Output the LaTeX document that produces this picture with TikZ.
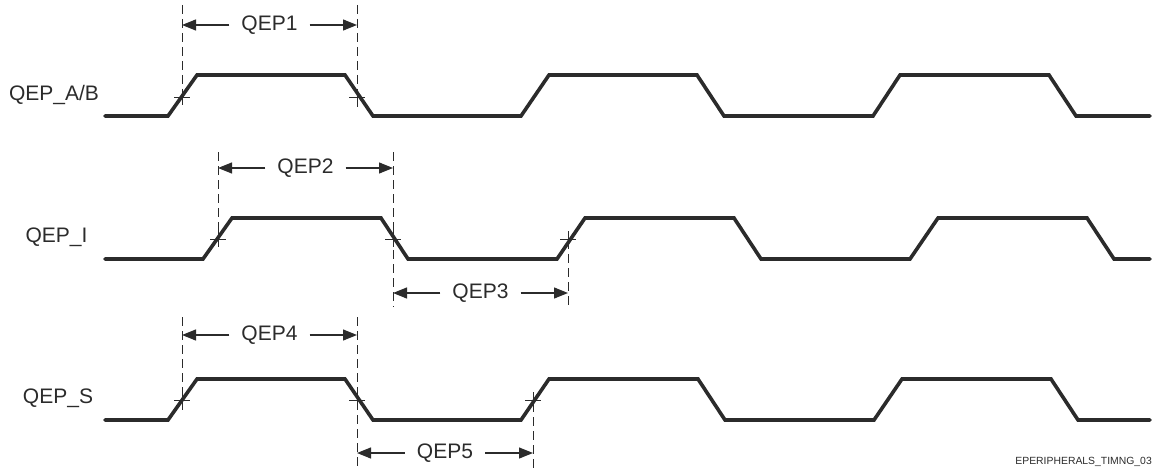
\documentclass[tikz,border=0pt]{standalone}
\usepackage{fontspec}
\setmainfont{Liberation Sans}
\usetikzlibrary{arrows.meta,calc}
\definecolor{ink}{HTML}{2B2B2B}
\begin{document}
\begin{tikzpicture}[x=1pt,y=-1pt,
  sig/.style={line width=3.6pt, draw=ink, line join=miter, line cap=round},
  guide/.style={line width=0.9pt, draw=ink, dash pattern=on 9pt off 5pt},
  tick/.style={line width=0.9pt, draw=ink},
  meas/.style={line width=1.2pt, draw=ink, -{Triangle[length=14pt,width=11pt]}},
  lbl/.style={font=\fontsize{21}{25}\selectfont, text=ink, inner sep=0pt},
  mlbl/.style={lbl, inner xsep=12pt},
  foot/.style={font=\fontsize{10.4}{12}\selectfont, text=ink, inner sep=0pt}]
\useasboundingbox (0,0) rectangle (1153,468);

% signal labels
\node[lbl] (lab) at (54,95) {QEP\_A/B};
\node[lbl] (li)  at (56.5,237) {QEP\_I};
\node[lbl] (ls)  at (58,398) {QEP\_S};

% waveforms
\draw[sig] (105,116) -- (168,116) -- (197,75) -- (345,75) -- (373,116)
  -- (521,116) -- (549,75) -- (697,75) -- (724,116)
  -- (873,116) -- (900,75) -- (1049,75) -- (1076,116) -- (1150,116);
\draw[sig] (105,259) -- (203,259) -- (232,218) -- (381,218) -- (408,259)
  -- (557,259) -- (585,218) -- (734,218) -- (761,259)
  -- (910,259) -- (938,218) -- (1087,218) -- (1114,259) -- (1150,259);
\draw[sig] (105,420) -- (168,420) -- (197,379) -- (345,379) -- (373,420)
  -- (521,420) -- (549,379) -- (698,379) -- (725,420)
  -- (874,420) -- (902,379) -- (1051,379) -- (1078,420) -- (1150,420);

% reference coordinates (dashed guides)
\coordinate (a1t) at (182,5);   \coordinate (a1b) at (182,105);
\coordinate (a2t) at (357,5);   \coordinate (a2b) at (357,107);
\coordinate (i1t) at (218,152); \coordinate (i1b) at (218,248);
\coordinate (i2t) at (393,152); \coordinate (i2b) at (393,307);
\coordinate (i3t) at (568,240); \coordinate (i3b) at (568,307);
\coordinate (s1t) at (182,317); \coordinate (s1b) at (182,410);
\coordinate (s2t) at (357,317); \coordinate (s2b) at (357,468);
\coordinate (s3t) at (533,403); \coordinate (s3b) at (533,468);

\foreach \t/\b in {a1t/a1b,a2t/a2b,i1t/i1b,i2t/i2b,i3t/i3b,s1t/s1b,s2t/s2b,s3t/s3b}
  \draw[guide] (\t) -- (\b);

% crossing marks
\foreach \x/\y in {182/97,357/97,218/239,393/239,568/239,182/400,357/400,533/400}{
  \draw[tick] (\x-8,\y) -- (\x+8,\y);
  \draw[tick] (\x,\y-8) -- (\x,\y+8);
}

% measurement arrows
\coordinate (m1l) at (182,25);  \coordinate (m1r) at (357,25);
\coordinate (m2l) at (218,168); \coordinate (m2r) at (393,168);
\coordinate (m3l) at (393,293); \coordinate (m3r) at (568,293);
\coordinate (m4l) at (182,335); \coordinate (m4r) at (357,335);
\coordinate (m5l) at (357,453); \coordinate (m5r) at (533,453);

\node[mlbl] (q1) at ($(m1l)!0.5!(m1r)$) {QEP1};
\node[mlbl] (q2) at ($(m2l)!0.5!(m2r)$) {QEP2};
\node[mlbl] (q3) at ($(m3l)!0.5!(m3r)$) {QEP3};
\node[mlbl] (q4) at ($(m4l)!0.5!(m4r)$) {QEP4};
\node[mlbl] (q5) at ($(m5l)!0.5!(m5r)$) {QEP5};

\foreach \n/\l/\r in {q1/m1l/m1r,q2/m2l/m2r,q3/m3l/m3r,q4/m4l/m4r,q5/m5l/m5r}{
  \draw[meas] (\n.west) -- (\l);
  \draw[meas] (\n.east) -- (\r);
}

\node[foot, anchor=east] (ft) at (1152,462) {EPERIPHERALS\_TIMNG\_03};
\end{tikzpicture}
\end{document}
